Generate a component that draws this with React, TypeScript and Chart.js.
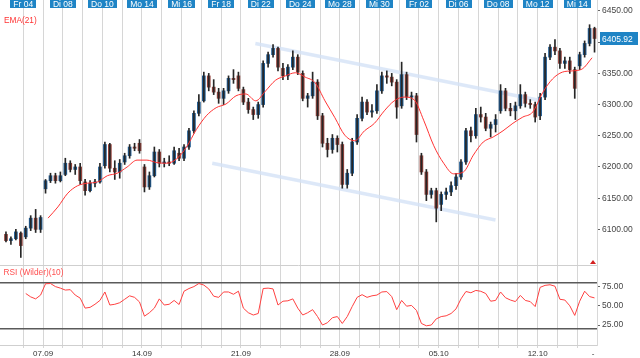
import React, { useEffect, useRef } from 'react';
import { Chart, registerables } from 'chart.js';

Chart.register(...registerables);

const FONT = "'Liberation Sans', Arial, Helvetica, sans-serif";

// ---------- data ----------
const CANDLES_PER_DAY = 4;

const opens = [
  6092, 6082, 6085, 6094, 6088, 6102, 6118, 6100, 6165, 6178, 6186, 6178,
  6188, 6206, 6196, 6200, 6176, 6162, 6174, 6176, 6202, 6236, 6198, 6192,
  6208, 6218, 6232, 6238, 6200, 6168, 6186, 6224, 6206, 6208, 6206, 6222,
  6214, 6232, 6258, 6286, 6306, 6346, 6328, 6320, 6310, 6322, 6342, 6346,
  6324, 6304, 6292, 6284, 6300, 6366, 6380, 6390, 6358, 6346, 6360, 6376,
  6350, 6310, 6314, 6336, 6282, 6238, 6228, 6246, 6236, 6172, 6190, 6240,
  6278, 6304, 6288, 6290, 6322, 6346, 6344, 6336, 6298, 6348, 6312, 6314,
  6218, 6192, 6156, 6162, 6140, 6156, 6160, 6170, 6184, 6208, 6258, 6250,
  6284, 6280, 6262, 6268, 6290, 6322, 6294, 6290, 6298, 6316, 6302, 6300,
  6282, 6312, 6376, 6392, 6386, 6366, 6370, 6356, 6362, 6380, 6398, 6422,
];
const highs = [
  6096, 6088, 6100, 6096, 6105, 6122, 6132, 6122, 6180, 6190, 6190, 6192,
  6214, 6210, 6204, 6206, 6180, 6178, 6180, 6206, 6240, 6238, 6210, 6212,
  6222, 6236, 6238, 6244, 6204, 6192, 6232, 6228, 6214, 6218, 6232, 6230,
  6236, 6262, 6290, 6316, 6352, 6350, 6340, 6326, 6326, 6346, 6356, 6352,
  6328, 6310, 6296, 6304, 6370, 6384, 6396, 6392, 6366, 6364, 6386, 6380,
  6354, 6318, 6352, 6340, 6286, 6246, 6252, 6250, 6240, 6196, 6246, 6284,
  6312, 6308, 6300, 6332, 6352, 6354, 6350, 6340, 6368, 6352, 6320, 6318,
  6222, 6196, 6166, 6166, 6160, 6166, 6176, 6190, 6212, 6262, 6264, 6294,
  6296, 6286, 6272, 6284, 6332, 6326, 6302, 6304, 6332, 6320, 6308, 6304,
  6318, 6382, 6396, 6404, 6390, 6376, 6376, 6360, 6384, 6402, 6428, 6424,
];
const lows = [
  6080, 6076, 6083, 6055, 6085, 6098, 6095, 6095, 6158, 6175, 6174, 6176,
  6186, 6192, 6188, 6172, 6155, 6160, 6168, 6174, 6198, 6192, 6180, 6182,
  6204, 6214, 6226, 6222, 6160, 6164, 6184, 6200, 6200, 6202, 6204, 6210,
  6210, 6228, 6254, 6282, 6304, 6322, 6316, 6302, 6300, 6318, 6334, 6322,
  6300, 6286, 6276, 6278, 6296, 6360, 6376, 6354, 6340, 6340, 6356, 6348,
  6306, 6296, 6310, 6276, 6232, 6216, 6222, 6224, 6166, 6166, 6186, 6236,
  6274, 6284, 6280, 6286, 6318, 6334, 6330, 6278, 6294, 6308, 6296, 6240,
  6188, 6146, 6150, 6112, 6130, 6148, 6154, 6164, 6180, 6204, 6240, 6246,
  6272, 6258, 6248, 6256, 6286, 6290, 6282, 6276, 6294, 6296, 6294, 6272,
  6276, 6308, 6372, 6380, 6358, 6358, 6350, 6310, 6356, 6376, 6394, 6384,
];
const closes = [
  6082, 6085, 6096, 6074, 6102, 6118, 6100, 6119, 6178, 6186, 6178, 6186,
  6206, 6196, 6200, 6178, 6162, 6174, 6176, 6200, 6236, 6198, 6192, 6206,
  6218, 6232, 6230, 6226, 6168, 6186, 6224, 6206, 6208, 6206, 6226, 6214,
  6232, 6258, 6286, 6304, 6346, 6328, 6320, 6310, 6322, 6342, 6340, 6326,
  6304, 6292, 6284, 6300, 6366, 6380, 6390, 6360, 6346, 6360, 6376, 6352,
  6310, 6314, 6336, 6282, 6238, 6228, 6246, 6236, 6172, 6190, 6240, 6278,
  6304, 6288, 6290, 6322, 6346, 6344, 6336, 6296, 6348, 6312, 6314, 6252,
  6192, 6156, 6162, 6134, 6156, 6160, 6170, 6184, 6208, 6258, 6250, 6284,
  6280, 6262, 6268, 6276, 6322, 6294, 6290, 6298, 6316, 6302, 6300, 6280,
  6312, 6376, 6392, 6386, 6366, 6370, 6356, 6326, 6380, 6398, 6422, 6405.92,
];

// EMA(21), every half trading day starting at day 2.25
const emaStartDay = 2.25;
const emaStepDays = 0.5;
const emaValues = [
  6118, 6136, 6158, 6170, 6174, 6176, 6186, 6190, 6200, 6211,
  6211, 6207, 6206, 6213, 6232, 6260, 6282, 6295, 6301, 6314,
  6317, 6306, 6322, 6339, 6346, 6351, 6344, 6335, 6306, 6279,
  6251, 6242, 6258, 6270, 6290, 6306, 6312, 6308, 6274, 6234,
  6206, 6189, 6192, 6219, 6240, 6248, 6258, 6270, 6280, 6288,
  6319, 6341, 6352, 6354, 6357, 6375,
];

// RSI (Wilder)(10), one value per candle
const rsiValues = [
  null, null, null, null,
  66, 61.6, 59, 64, 78.7, 79, 75, 73, 70.5, 71, 64, 60,
  47, 48, 52, 57, 68, 51, 52, 54, 58.5, 63, 61, 55,
  36.5, 41, 47, 59, 51, 52, 57, 51.7, 69, 72.5, 75, 79,
  77, 72, 62.5, 61, 68, 68, 65, 69, 47, 41, 38, 40,
  72.5, 73, 72, 51, 56, 56.5, 59, 47, 38, 41, 45, 36,
  25, 28, 34.5, 36, 27, 36, 49, 61, 64.5, 61, 63, 64,
  68, 68.5, 62, 45, 57, 49.5, 50.5, 44, 27, 24, 25, 33,
  36, 37, 40, 46, 59, 68.6, 67, 70, 68.9, 66, 56, 57,
  68, 60.5, 57.5, 55.5, 63.5, 57, 55.5, 49, 74, 76.6, 77.4, 75.5,
  58.5, 57.5, 50, 37.5, 56, 69, 62, 60.3,
];

// trend channel (day position, price)
const channelUpperDays = [12.73, 27.07];
const channelUpperValues = [6398, 6307];
const channelLowerDays = [10.55, 24.87];
const channelLowerValues = [6206, 6115];

// axes
const dayGridLines = [1, 2, 3, 4, 5, 6, 7, 8, 9, 10, 11, 12, 13, 14, 15, 16, 17, 18, 19, 20, 21, 22, 23, 24, 25, 26, 27, 28, 29];
const topLabelDays = [1, 3, 5, 7, 9, 11, 13, 15, 17, 19, 21, 23, 25, 27, 29];
const topLabels = ['Fr 04', 'Di 08', 'Do 10', 'Mo 14', 'Mi 16', 'Fr 18', 'Di 22', 'Do 24', 'Mo 28', 'Mi 30', 'Fr 02', 'Di 06', 'Do 08', 'Mo 12', 'Mi 14'];
const bottomLabelDays = [2, 7, 12, 17, 22, 27, 29.8];
const bottomLabels = ['07.09', '14.09', '21.09', '28.09', '05.10', '12.10', '-'];
const priceTicks = [6100, 6150, 6200, 6250, 6300, 6350, 6400, 6450];
const rsiTicks = [25, 50, 75];
const rsiBands = [20, 80];

const X_MIN = -0.177;
const X_MAX = 30;
const PRICE_MIN = 6042.9;
const PRICE_MAX = 6467.6;
const RSI_MIN = -1.0;
const RSI_MAX = 103.1;

// ---------- styles ----------
const UP = '#1f5a90';
const DOWN = '#93413a';
const WICK = '#262626';
const GRID = '#d6d6d6';
const BLUE_TAG = '#1f84c5';
const CHANNEL = 'rgba(212,226,246,0.8)';

const candleDay = (i: number) =>
  Math.floor(i / CANDLES_PER_DAY) + ((i % CANDLES_PER_DAY) + 0.5) / CANDLES_PER_DAY;

export default function App() {
  const priceRef = useRef<HTMLCanvasElement | null>(null);
  const rsiRef = useRef<HTMLCanvasElement | null>(null);

  useEffect(() => {
    const wicks = opens.map((_, i) => ({ x: candleDay(i), y: [lows[i], highs[i]] }));
    const bodies = opens.map((o, i) => ({ x: candleDay(i), y: [o, closes[i]] }));
    const bodyColors = opens.map((o, i) => (closes[i] >= o ? UP : DOWN));
    const ema = emaValues.map((v, k) => ({ x: emaStartDay + k * emaStepDays, y: v }));
    const upper = channelUpperDays.map((d, k) => ({ x: d, y: channelUpperValues[k] }));
    const lower = channelLowerDays.map((d, k) => ({ x: d, y: channelLowerValues[k] }));

    const decorA = {
      id: 'decorA',
      afterDraw(chart: any) {
        const { ctx, chartArea } = chart;
        const xs = chart.scales.x;
        const ys = chart.scales.y;
        ctx.save();
        ctx.font = `8.5px ${FONT}`;
        ctx.textAlign = 'center';
        ctx.textBaseline = 'alphabetic';
        topLabels.forEach((lab, k) => {
          const cx = xs.getPixelForValue(topLabelDays[k]);
          const w = Math.round(ctx.measureText(lab).width + 6);
          ctx.fillStyle = BLUE_TAG;
          ctx.fillRect(Math.round(cx - w / 2), 0, w, 8);
          ctx.fillStyle = '#ffffff';
          ctx.fillText(lab, cx, 7.4);
        });
        ctx.textAlign = 'left';
        ctx.fillStyle = '#ff3434';
        ctx.font = `8.3px ${FONT}`;
        ctx.fillText('EMA(21)', chartArea.left + 4, 22.5);

        const last = closes[closes.length - 1];
        const py = ys.getPixelForValue(last);
        ctx.fillStyle = BLUE_TAG;
        ctx.fillRect(chartArea.right + 3, Math.round(py) - 6, 38, 13);
        ctx.fillStyle = '#ffffff';
        ctx.font = `8.5px ${FONT}`;
        ctx.textBaseline = 'middle';
        ctx.fillText(last.toFixed(2), chartArea.right + 5, py + 1);

        // small RSI panel marker
        const tx = chartArea.right - 4;
        const tb = chartArea.bottom - 1;
        ctx.fillStyle = '#d42020';
        ctx.beginPath();
        ctx.moveTo(tx - 3, tb);
        ctx.lineTo(tx + 3, tb);
        ctx.lineTo(tx, tb - 4);
        ctx.closePath();
        ctx.fill();
        ctx.restore();
      },
    };

    const priceChart = new Chart(priceRef.current as HTMLCanvasElement, {
      type: 'bar',
      data: {
        datasets: [
          {
            type: 'line',
            label: 'EMA(21)',
            data: ema,
            borderColor: '#ff3434',
            borderWidth: 1,
            pointRadius: 0,
            cubicInterpolationMode: 'monotone',
            order: 0,
          } as any,
          {
            type: 'bar',
            label: 'wicks',
            data: wicks,
            backgroundColor: WICK,
            borderWidth: 0,
            barThickness: 1,
            grouped: false,
            order: 1,
          } as any,
          {
            type: 'bar',
            label: 'bodies',
            data: bodies,
            backgroundColor: bodyColors,
            borderWidth: 0,
            barThickness: 3,
            grouped: false,
            order: 2,
          } as any,
          {
            type: 'line',
            label: 'upper',
            data: upper,
            borderColor: CHANNEL,
            borderWidth: 3.5,
            pointRadius: 0,
            order: 3,
          } as any,
          {
            type: 'line',
            label: 'lower',
            data: lower,
            borderColor: CHANNEL,
            borderWidth: 3.5,
            pointRadius: 0,
            order: 3,
          } as any,
        ],
      },
      options: {
        responsive: false,
        animation: false,
        devicePixelRatio: 1,
        events: [],
        layout: { padding: 0 },
        plugins: { legend: { display: false }, tooltip: { enabled: false } },
        scales: {
          x: {
            type: 'linear',
            min: X_MIN,
            max: X_MAX,
            offset: false,
            afterBuildTicks: (s: any) => {
              s.ticks = dayGridLines.map((v) => ({ value: v }));
            },
            ticks: { display: false },
            grid: { color: GRID, drawTicks: false, offset: false, lineWidth: 1 },
            border: { display: false },
            afterFit: (s: any) => {
              s.height = 0;
              s.paddingLeft = 0;
              s.paddingRight = 0;
            },
          },
          y: {
            type: 'linear',
            position: 'right',
            min: PRICE_MIN,
            max: PRICE_MAX,
            beginAtZero: false,
            afterBuildTicks: (s: any) => {
              s.ticks = priceTicks.map((v) => ({ value: v }));
            },
            ticks: {
              callback: (v: any) => Number(v).toFixed(2),
              color: '#444444',
              font: { size: 8.5, family: FONT },
              padding: 2,
            },
            grid: { drawOnChartArea: false, drawTicks: true, tickLength: 3, color: '#666666' },
            border: { display: true, color: '#d8d8d8' },
            afterFit: (s: any) => {
              s.width = 43;
              s.paddingTop = 0;
              s.paddingBottom = 0;
            },
          },
        },
      } as any,
      plugins: [decorA],
    });

    const decorB = {
      id: 'decorB',
      afterDraw(chart: any) {
        const { ctx, chartArea } = chart;
        ctx.save();
        ctx.strokeStyle = '#cfcfcf';
        ctx.lineWidth = 1;
        ctx.beginPath();
        ctx.moveTo(chartArea.left, chartArea.top + 0.5);
        ctx.lineTo(chartArea.right, chartArea.top + 0.5);
        ctx.stroke();
        ctx.fillStyle = '#ff5050';
        ctx.font = `8.3px ${FONT}`;
        ctx.textAlign = 'left';
        ctx.textBaseline = 'alphabetic';
        ctx.fillText('RSI (Wilder)(10)', chartArea.left + 3.5, chartArea.top + 10);
        ctx.restore();
      },
    };

    const rsiData = rsiValues.map((v, i) => ({ x: candleDay(i), y: v }));
    const bandSets = rsiBands.map((b) => ({
      type: 'line',
      data: [
        { x: X_MIN, y: b },
        { x: X_MAX, y: b },
      ],
      borderColor: '#5a5a5a',
      borderWidth: 1.5,
      pointRadius: 0,
      order: 1,
    }));
    const tickDays = [...dayGridLines, ...bottomLabelDays.filter((d) => !dayGridLines.includes(d))];

    const rsiChart = new Chart(rsiRef.current as HTMLCanvasElement, {
      type: 'line',
      data: {
        datasets: [
          {
            label: 'RSI',
            data: rsiData,
            borderColor: '#ff4040',
            borderWidth: 1,
            pointRadius: 0,
            spanGaps: false,
            order: 0,
          } as any,
          ...(bandSets as any[]),
        ],
      },
      options: {
        responsive: false,
        animation: false,
        devicePixelRatio: 1,
        events: [],
        layout: { padding: 0 },
        plugins: { legend: { display: false }, tooltip: { enabled: false } },
        scales: {
          x: {
            type: 'linear',
            min: X_MIN,
            max: X_MAX,
            offset: false,
            afterBuildTicks: (s: any) => {
              s.ticks = tickDays.map((v) => ({ value: v }));
            },
            ticks: {
              autoSkip: false,
              maxRotation: 0,
              minRotation: 0,
              padding: 1,
              color: '#333333',
              font: { size: 8, family: FONT },
              callback: (v: any) => {
                const k = bottomLabelDays.indexOf(Number(v));
                return k >= 0 ? bottomLabels[k] : '';
              },
            },
            grid: {
              offset: false,
              drawTicks: true,
              tickLength: 3,
              color: (c: any) =>
                c.tick && dayGridLines.includes(c.tick.value) ? GRID : 'rgba(0,0,0,0)',
            },
            border: { display: true, color: '#cfcfcf' },
            afterFit: (s: any) => {
              s.height = 13;
              s.paddingLeft = 0;
              s.paddingRight = 0;
            },
          },
          y: {
            type: 'linear',
            position: 'right',
            min: RSI_MIN,
            max: RSI_MAX,
            afterBuildTicks: (s: any) => {
              s.ticks = rsiTicks.map((v) => ({ value: v }));
            },
            ticks: {
              callback: (v: any) => Number(v).toFixed(2),
              color: '#444444',
              font: { size: 8.5, family: FONT },
              padding: 2,
            },
            grid: { drawOnChartArea: false, drawTicks: true, tickLength: 3, color: '#666666' },
            border: { display: true, color: '#d8d8d8' },
            afterFit: (s: any) => {
              s.width = 43;
              s.paddingTop = 0;
              s.paddingBottom = 0;
            },
          },
        },
      } as any,
      plugins: [decorB],
    });

    return () => {
      priceChart.destroy();
      rsiChart.destroy();
    };
  }, []);

  return (
    <div
      style={{
        position: 'fixed',
        left: 0,
        top: 0,
        width: 640,
        height: 358,
        background: '#ffffff',
        overflow: 'hidden',
      }}
    >
      <canvas ref={priceRef} width={640} height={265} style={{ display: 'block', width: 640, height: 265 }} />
      <canvas ref={rsiRef} width={640} height={93} style={{ display: 'block', width: 640, height: 93 }} />
    </div>
  );
}
